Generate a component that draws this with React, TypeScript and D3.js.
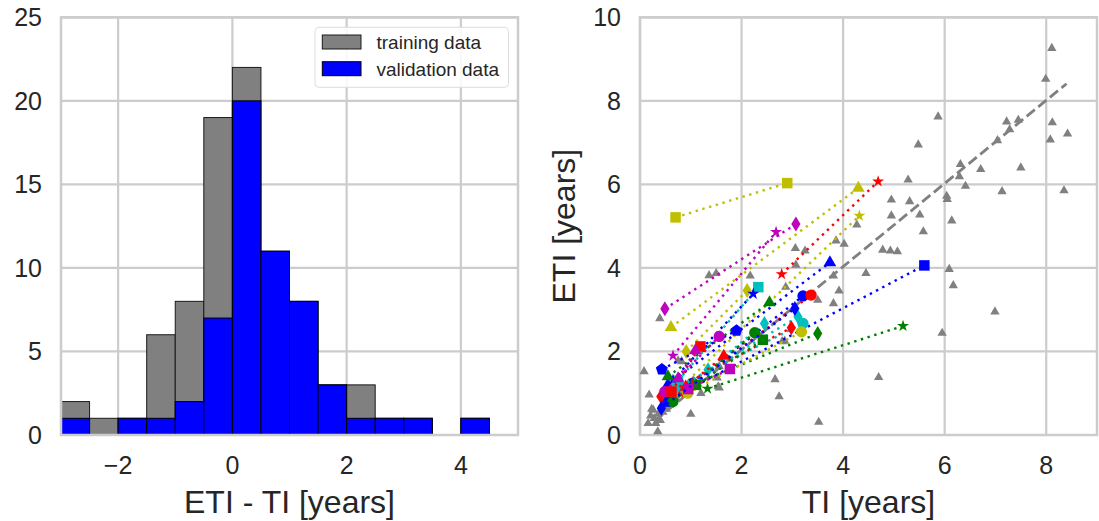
import React from 'react';
import * as d3 from 'd3';

// ---- histogram (left panel) ----
const binStart = [-3, -2.5, -2, -1.5, -1, -0.5, 0, 0.5, 1, 1.5, 2, 2.5, 3, 3.5, 4];
const binWidth = 0.5;
const trainingCounts = [2, 1, 1, 6, 8, 19, 22, 11, 8, 3, 3, 1, 1, 0, 1];
const validationCounts = [1, 0, 1, 1, 2, 7, 20, 11, 8, 3, 1, 1, 1, 0, 1];
const histXTicks = [-2, 0, 2, 4];
const histYTicks = [0, 5, 10, 15, 20, 25];

// ---- scatter (right panel) ----
const trainTI = [
  8.11, 7.99, 5.87, 7.22, 7.45, 7.28, 8.12, 8.42, 8.08, 7.04, 5.48, 6.31, 6.29, 6.71, 7.5,
  6.41, 5.28, 7.13, 8.35, 6.04, 6.05, 4.95, 5.31, 4.95, 5.51, 6.14, 5.58, 4.27, 3.86, 4.02,
  4.78, 4.93, 5.07, 3.06, 3.25, 3.07, 4.45, 6.09, 3.81, 6.17, 3.92, 2.87, 3.5, 3.81, 6.99,
  5.95, 2.66, 4.7, 2.74, 3.52, 2.8, 0.39, 1.36, 1.5, 2.17, 0.08, 0.18, 0.23, 0.21, 0.16,
  0.31, 0.35, 1.0, 1.56, 1.52, 0.82, 1.56, 2.85, 0.58, 0.26, 0.75, 1.54, 0.45, 0.62,
  0.28, 0.4, 0.52, 0.7, 0.36, 1.2, 1.05,
];
const trainETI = [
  9.26, 8.52, 7.62, 7.5, 7.54, 7.31, 7.48, 7.21, 7.07, 7.05, 6.95, 6.48, 6.19, 6.36, 6.4,
  5.96, 6.11, 5.83, 5.85, 5.72, 5.64, 5.63, 5.59, 5.25, 5.27, 5.13, 4.87, 5.03, 4.65, 4.57,
  4.43, 4.41, 4.39, 4.47, 4.41, 4.07, 3.87, 3.97, 3.81, 3.58, 3.45, 3.54, 3.23, 3.15, 2.95,
  2.44, 1.33, 1.38, 0.92, 0.31, 2.24, 2.79, 3.82, 3.87, 3.81, 1.52, 0.96, 0.62, 0.46, 0.28,
  0.28, 0.08, 0.5, 1.13, 1.37, 1.76, 1.64, 2.25, 0.72, 0.6, 1.78, 1.16, 0.55, 0.85,
  0.4, 0.35, 0.62, 0.9, 0.5, 1.0, 1.3,
];
const fitTI = [0.3, 8.4];
const fitETI = [0.35, 8.41];

// validation subjects: first and last visit, joined by a dotted line
const subjColor = [
  'y', 'm', 'y', 'r', 'y', 'm', 'b', 'b', 'g', 'g', 'c', 'y', 'b', 'g', 'b',
  'r', 'b', 'c', 'c', 'y', 'r', 'c', 'g', 'g', 'm', 'r', 'm', 'r', 'm', 'b',
];
const subjMarker = [
  'square', 'diamond', 'triangle', 'star', 'star', 'star', 'triangle', 'square', 'star', 'diamond',
  'square', 'diamond', 'star', 'triangle', 'circle', 'circle', 'pentagon', 'diamond', 'circle', 'circle',
  'diamond', 'diamond', 'square', 'circle', 'circle', 'square', 'triangle', 'triangle', 'square', 'diamond',
];
const tiFirst = [
  0.7, 0.49, 0.61, 2.79, 0.65, 0.65, 0.55, 0.5, 1.33, 0.62, 0.75, 0.91, 0.65, 0.55, 1.04,
  0.85, 0.43, 0.81, 0.68, 0.94, 0.41, 1.34, 1.1, 0.65, 0.49, 0.62, 0.75, 0.9, 0.95, 0.42,
];
const etiFirst = [
  5.21, 3.02, 2.58, 3.85, 0.96, 1.9, 1.2, 0.8, 1.11, 1.0, 1.3, 2.0, 1.32, 1.4, 1.24,
  1.05, 1.57, 1.16, 1.12, 1.0, 0.92, 1.56, 1.2, 0.8, 1.04, 1.04, 1.35, 1.15, 1.1, 0.64,
];
const tiLast = [
  2.9, 3.07, 4.3, 4.69, 4.32, 2.68, 3.74, 5.6, 5.18, 3.5, 2.33, 2.11, 2.23, 2.55, 3.21,
  3.37, 1.9, 3.11, 3.21, 3.18, 2.98, 2.45, 2.42, 2.26, 1.56, 1.19, 1.09, 1.65, 1.77, 3.05,
];
const etiLast = [
  6.03, 5.05, 5.91, 6.07, 5.25, 4.86, 4.13, 4.06, 2.61, 2.43, 3.54, 3.46, 3.38, 3.17, 3.33,
  3.35, 2.5, 2.83, 2.67, 2.47, 2.57, 2.67, 2.28, 2.45, 2.36, 2.12, 2.02, 1.89, 1.58, 3.03,
];
const scatterXTicks = [0, 2, 4, 6, 8];
const scatterYTicks = [0, 2, 4, 6, 8, 10];

const colorMap: Record<string, string> = {
  b: '#0000ff', g: '#008000', r: '#ff0000', c: '#00bfbf', m: '#bf00bf', y: '#bfbf00',
};

const FONT = "'Liberation Sans', Arial, sans-serif";
const TEXT = '#262626';
const GRID = '#cccccc';

const pentagonPath = (() => {
  const r = 6.3;
  const pts = d3.range(5).map((i) => {
    const a = -Math.PI / 2 + (i * 2 * Math.PI) / 5;
    return [r * Math.cos(a), r * Math.sin(a)];
  });
  return 'M' + pts.map((p) => p.join(',')).join('L') + 'Z';
})();

function markerPath(kind: string): string {
  switch (kind) {
    case 'square':
      return d3.symbol(d3.symbolSquare, 110)()!;
    case 'circle':
      return d3.symbol(d3.symbolCircle, 100)()!;
    case 'triangle':
      return d3.symbol(d3.symbolTriangle, 70)()!;
    case 'star':
      return d3.symbol(d3.symbolStar, 45)()!;
    case 'diamond':
      return 'M0,-7.5L4.6,0L0,7.5L-4.6,0Z';
    case 'pentagon':
      return pentagonPath;
    default:
      return d3.symbol(d3.symbolCircle, 100)()!;
  }
}

const App = () => {
  // left panel geometry
  const L = { x0: 61, x1: 518, y0: 17.3, y1: 435 };
  const hx = d3.scaleLinear().domain([-3, 5]).range([L.x0, L.x1]);
  const hy = d3.scaleLinear().domain([0, 25]).range([L.y1, L.y0]);

  // right panel geometry
  const R = { x0: 640, x1: 1097, y0: 17.3, y1: 435 };
  const sx = d3.scaleLinear().domain([0, 9]).range([R.x0, R.x1]);
  const sy = d3.scaleLinear().domain([0, 10]).range([R.y1, R.y0]);

  const triPath = d3.symbol(d3.symbolTriangle, 38)()!;
  const line = d3.line<number>().x((i) => sx(fitTI[i])).y((i) => sy(fitETI[i]));

  return (
    <svg
      width={1099}
      height={521}
      style={{ position: 'absolute', left: 0, top: 0, background: '#fff' }}
      fontFamily={FONT}
    >
      {/* ===== left: histogram ===== */}
      <g>
        {histXTicks.map((t) => (
          <line key={'hgx' + t} x1={hx(t)} x2={hx(t)} y1={L.y0} y2={L.y1} stroke={GRID} strokeWidth={2.2} />
        ))}
        {histYTicks.map((t) => (
          <line key={'hgy' + t} x1={L.x0} x2={L.x1} y1={hy(t)} y2={hy(t)} stroke={GRID} strokeWidth={2.2} />
        ))}
        {binStart.map((b, i) =>
          trainingCounts[i] > 0 ? (
            <rect
              key={'tr' + i}
              x={hx(b)}
              y={hy(trainingCounts[i])}
              width={hx(b + binWidth) - hx(b)}
              height={hy(0) - hy(trainingCounts[i])}
              fill="#808080"
              stroke="#1a1a1a"
              strokeWidth={1}
            />
          ) : null
        )}
        {binStart.map((b, i) =>
          validationCounts[i] > 0 ? (
            <rect
              key={'va' + i}
              x={hx(b)}
              y={hy(validationCounts[i])}
              width={hx(b + binWidth) - hx(b)}
              height={hy(0) - hy(validationCounts[i])}
              fill="#0000ff"
              stroke="#000"
              strokeWidth={1}
            />
          ) : null
        )}
        <rect x={L.x0} y={L.y0} width={L.x1 - L.x0} height={L.y1 - L.y0} fill="none" stroke={GRID} strokeWidth={2.5} />
        {histXTicks.map((t) => (
          <text key={'hxl' + t} x={hx(t)} y={474} textAnchor="middle" fontSize={25} fill={TEXT}>
            {t < 0 ? '\u2212' + Math.abs(t) : t}
          </text>
        ))}
        {histYTicks.map((t) => (
          <text key={'hyl' + t} x={L.x0 - 19} y={hy(t)} dy="0.36em" textAnchor="end" fontSize={25} fill={TEXT}>
            {t}
          </text>
        ))}
        <text x={(L.x0 + L.x1) / 2} y={513} textAnchor="middle" fontSize={32} fill={TEXT}>
          ETI - TI [years]
        </text>
        {/* legend */}
        <rect x={315} y={27.3} width={193.5} height={60} rx={4} fill="#fff" fillOpacity={0.85} stroke="#dddddd" strokeWidth={1} />
        <rect x={322.3} y={35} width={38.7} height={14} fill="#808080" stroke="#1a1a1a" strokeWidth={1} />
        <rect x={322.3} y={61.7} width={38.7} height={14} fill="#0000ff" stroke="#000" strokeWidth={1} />
        <text x={376.5} y={49} fontSize={19} fill={TEXT}>training data</text>
        <text x={376.5} y={75.5} fontSize={19} fill={TEXT}>validation data</text>
      </g>

      {/* ===== right: scatter ===== */}
      <g>
        {scatterXTicks.map((t) => (
          <line key={'sgx' + t} x1={sx(t)} x2={sx(t)} y1={R.y0} y2={R.y1} stroke={GRID} strokeWidth={2.2} />
        ))}
        {scatterYTicks.map((t) => (
          <line key={'sgy' + t} x1={R.x0} x2={R.x1} y1={sy(t)} y2={sy(t)} stroke={GRID} strokeWidth={2.2} />
        ))}
        <rect x={R.x0} y={R.y0} width={R.x1 - R.x0} height={R.y1 - R.y0} fill="none" stroke={GRID} strokeWidth={2.5} />
        {trainTI.map((v, i) => (
          <path key={'tp' + i} d={triPath} transform={`translate(${sx(v)},${sy(trainETI[i])})`} fill="#808080" />
        ))}
        <path
          d={line([0, 1])!}
          fill="none"
          stroke="#808080"
          strokeWidth={2.8}
          strokeDasharray="10.5,4.5"
        />
        {tiFirst.map((v, i) => {
          const col = colorMap[subjColor[i]];
          const mp = markerPath(subjMarker[i]);
          return (
            <g key={'sub' + i}>
              <line
                x1={sx(v)}
                y1={sy(etiFirst[i])}
                x2={sx(tiLast[i])}
                y2={sy(etiLast[i])}
                stroke={col}
                strokeWidth={2.4}
                strokeDasharray="2.4,4.6"
              />
              <path d={mp} transform={`translate(${sx(v)},${sy(etiFirst[i])})`} fill={col} />
              <path d={mp} transform={`translate(${sx(tiLast[i])},${sy(etiLast[i])})`} fill={col} />
            </g>
          );
        })}
        {scatterXTicks.map((t) => (
          <text key={'sxl' + t} x={sx(t)} y={474} textAnchor="middle" fontSize={25} fill={TEXT}>
            {t}
          </text>
        ))}
        {scatterYTicks.map((t) => (
          <text key={'syl' + t} x={R.x0 - 19} y={sy(t)} dy="0.36em" textAnchor="end" fontSize={25} fill={TEXT}>
            {t}
          </text>
        ))}
        <text x={(R.x0 + R.x1) / 2} y={513} textAnchor="middle" fontSize={32} fill={TEXT}>
          TI [years]
        </text>
        <text
          transform={`translate(575,${(R.y0 + R.y1) / 2}) rotate(-90)`}
          textAnchor="middle"
          fontSize={32}
          fill={TEXT}
        >
          ETI [years]
        </text>
      </g>
    </svg>
  );
};

export default App;
